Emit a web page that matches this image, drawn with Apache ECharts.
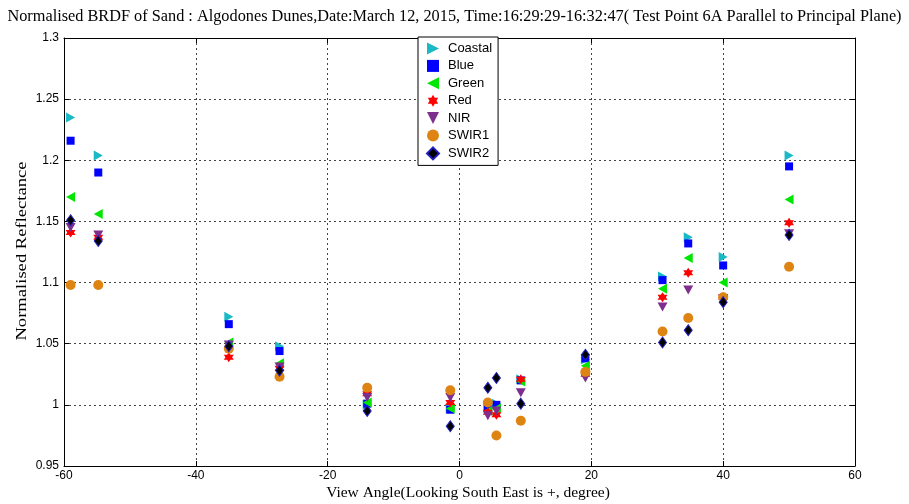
<!DOCTYPE html>
<html>
<head>
<meta charset="utf-8">
<script src="https://cdn.jsdelivr.net/npm/echarts@6/dist/echarts.min.js"></script>
<style>html,body{margin:0;padding:0;background:#fff}#c{width:909px;height:504px}</style>
</head>
<body>
<div id="c"></div>
<script>
const angles = [-59, -54.8, -35, -27.3, -14, -1.4, 4.3, 5.6, 9.3, 19.1, 30.8, 34.7, 40, 50];
const coastal = [1.235, 1.204, 1.072, 1.048, 1.000, 0.997, 0.998, 1.001, 1.021, 1.037, 1.105, 1.137, 1.121, 1.204];
const blue    = [1.216, 1.190, 1.066, 1.044, 1.001, 0.996, 0.998, 1.000, 1.020, 1.038, 1.102, 1.132, 1.114, 1.195];
const green   = [1.170, 1.156, 1.051, 1.034, 1.002, 0.997, 0.995, 0.997, 1.019, 1.032, 1.095, 1.120, 1.100, 1.168];
const red     = [1.141, 1.137, 1.039, 1.030, 1.009, 1.002, 0.994, 0.992, 1.021, 1.025, 1.088, 1.108, 1.088, 1.149];
const nir     = [1.145, 1.139, 1.049, 1.031, 1.006, 1.006, 0.991, 0.995, 1.010, 1.022, 1.080, 1.094, 1.087, 1.140];
const swir1   = [1.098, 1.098, 1.046, 1.023, 1.014, 1.012, 1.002, 0.975, 0.987, 1.027, 1.060, 1.071, 1.088, 1.113];
const swir2   = [1.151, 1.134, 1.048, 1.028, 0.995, 0.9825, 1.014, 1.022, 1.001, 1.041, 1.051, 1.061, 1.084, 1.139];
const xTicks = [-60, -40, -20, 0, 20, 40, 60];
const yTicks = [0.95, 1, 1.05, 1.1, 1.15, 1.2, 1.25, 1.3];

const SANS = 'Liberation Sans, Arial, sans-serif';
const SERIF = 'Liberation Serif, Times New Roman, serif';
const pts = v => angles.map((a, i) => [a, v[i]]);
const hexagram = 'path://M0,-10L2.89,-5L8.66,-5L5.77,0L8.66,5L2.89,5L0,10L-2.89,5L-8.66,5L-5.77,0L-8.66,-5L-2.89,-5Z';

const defs = [
  {name: 'Coastal', data: coastal, symbol: 'path://M0,0L10,5L0,10Z', size: [9, 10], color: '#19b9c5'},
  {name: 'Blue', data: blue, symbol: 'rect', size: 8, color: '#0000ff'},
  {name: 'Green', data: green, symbol: 'path://M10,0L0,5L10,10Z', size: [9, 10], color: '#00e600'},
  {name: 'Red', data: red, symbol: hexagram, size: 10, color: '#ff0000'},
  {name: 'NIR', data: nir, symbol: 'path://M0,0L10,0L5,10Z', size: [10, 9], color: '#7e2f8e'},
  {name: 'SWIR1', data: swir1, symbol: 'circle', size: 10, color: '#de8412'},
  {name: 'SWIR2', data: swir2, symbol: 'diamond', size: [8, 11], color: '#000000', border: '#2020c0'}
];

const chart = echarts.init(document.getElementById('c'), null, {renderer: 'canvas'});
const gridLine = {show: true, lineStyle: {color: '#444', type: [2, 3], width: 1}};
const frameAxis = {
  axisLine: {show: true, onZero: false, lineStyle: {color: '#000'}},
  axisTick: {show: true, inside: true, length: 5, lineStyle: {color: '#000'}}
};
chart.setOption({
  animation: false,
  backgroundColor: '#fff',
  title: {
    text: 'Normalised BRDF of Sand : Algodones Dunes,Date:March 12, 2015, Time:16:29:29-16:32:47( Test Point 6A Parallel to Principal Plane)',
    left: 'center', top: 4,
    textStyle: {fontFamily: SERIF, fontSize: 16.3, fontWeight: 'normal', color: '#000'}
  },
  grid: {left: 64, right: 54, top: 38, bottom: 38, containLabel: false, outerBoundsMode: 'none'},
  legend: {
    orient: 'vertical', left: 418, top: 37,
    backgroundColor: '#fff', borderColor: '#000', borderWidth: 1,
    padding: [5, 6, 5, 8], itemGap: 4.4, itemWidth: 12, itemHeight: 12,
    textStyle: {fontFamily: SANS, fontSize: 13, color: '#000', padding: [0, 0, 0, 4]},
    data: defs.map(d => d.name)
  },
  graphic: [{
    type: 'text', x: 22, y: 251, rotation: Math.PI / 2, scaleX: 1.2,
    style: {text: 'Normalised Reflectance', fontFamily: SERIF, fontSize: 15.5, fill: '#000',
      align: 'center', verticalAlign: 'middle'}
  }, {
    type: 'text', x: 468, y: 493,
    style: {text: 'View Angle(Looking South East is +, degree)', fontFamily: SERIF, fontSize: 15.5, fill: '#000',
      align: 'center', verticalAlign: 'middle'}
  }],
  xAxis: [Object.assign({
    type: 'value', min: -60, max: 60, interval: 20,
    axisLabel: {fontFamily: SANS, fontSize: 12, color: '#000', margin: 4},
    splitLine: gridLine
  }, frameAxis), Object.assign({
    type: 'value', min: -60, max: 60, interval: 20, position: 'top',
    axisLabel: {show: false}, splitLine: {show: false}
  }, frameAxis)],
  yAxis: [Object.assign({
    type: 'value', min: 0.95, max: 1.3, interval: 0.05,
    axisLabel: {fontFamily: SANS, fontSize: 12, color: '#000', margin: 5,
      formatter: v => String(+v.toFixed(2))},
    splitLine: gridLine
  }, frameAxis), Object.assign({
    type: 'value', min: 0.95, max: 1.3, interval: 0.05, position: 'right',
    axisLabel: {show: false}, splitLine: {show: false}
  }, frameAxis)],
  series: defs.map(d => ({
    name: d.name, type: 'scatter', xAxisIndex: 0, yAxisIndex: 0,
    symbol: d.symbol, symbolSize: d.size,
    itemStyle: {color: d.color, borderColor: d.border || d.color, borderWidth: d.border ? 1 : 0, opacity: 1},
    data: pts(d.data)
  }))
});
</script>
</body>
</html>
